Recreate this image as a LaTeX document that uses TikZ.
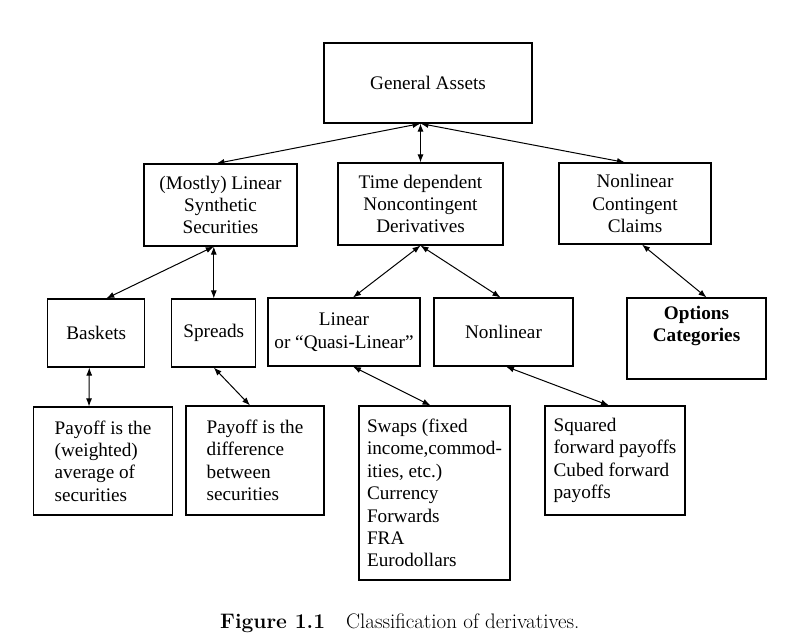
\documentclass[tikz,border=0pt]{standalone}
\usepackage{fontspec}
\newfontfamily\timesfont{Liberation Serif}
\usepackage{tikz}
\usetikzlibrary{arrows.meta}

\begin{document}
\begin{tikzpicture}[x=1pt, y=-1pt,
  box/.style={draw, line width=1.1pt, align=center, inner sep=2pt,
    font=\timesfont\fontsize{19.2}{22.4}\selectfont},
  leftbox/.style={box, align=left},
  link/.style={line width=1pt, {Latex[length=8pt,width=6pt]}-{Latex[length=8pt,width=6pt]}}
]
\useasboundingbox[fill=white] (0,0) rectangle (800,642);

% Top
\node[box, minimum width=208pt, minimum height=80pt] (ga) at (428,83) {General Assets};

% Second row
\node[box, minimum width=153pt, minimum height=82pt] (synth) at (220.5,205) {(Mostly) Linear\\Synthetic\\Securities};
\node[box, minimum width=165pt, minimum height=82pt] (timedep) at (420.5,204) {Time dependent\\Noncontingent\\Derivatives};
\node[box, minimum width=152pt, minimum height=81pt] (contingent) at (635,203.5) {Nonlinear\\Contingent\\Claims};

% Third row
\node[box, minimum width=97pt, minimum height=68pt] (baskets) at (96.3,333) {Baskets};
\node[box, minimum width=84pt, minimum height=68pt] (spreads) at (213.8,333) {Spreads};
\node[box, minimum width=152pt, minimum height=68pt] (linear) at (344,332) {Linear\\or “Quasi-Linear”};
\node[box, minimum width=139pt, minimum height=68pt] (nonlinear) at (503.5,332) {Nonlinear};
\node[box, minimum width=139pt, minimum height=81pt] (options) at (696.5,338.5) {\textbf{Options}\\\textbf{Categories}\\ \strut};

% Bottom row
\node[leftbox, minimum width=139pt, minimum height=108pt] (avg) at (103,461) {Payoff is the\\(weighted)\\average of\\securities};
\node[leftbox, minimum width=138pt, minimum height=109pt] (diff) at (255,460.5) {Payoff is the\\difference\\between\\securities};
\node[leftbox, minimum width=151pt, minimum height=174pt] (swaps) at (434.5,493) {Swaps (fixed\\income,commod-\\ities, etc.)\\Currency\\Forwards\\FRA\\Eurodollars};
\node[leftbox, minimum width=140pt, minimum height=109pt] (powers) at (615,460.5) {Squared\\forward payoffs\\Cubed forward\\payoffs};

% Arrows
\draw[link] (ga.south -| timedep.north) -- ([xshift=-4pt]synth.north);
\draw[link] (ga.south -| timedep.north) -- (timedep.north);
\draw[link] (ga.south -| timedep.north) -- ([xshift=-10pt]contingent.north);
\draw[link] (synth.south -| spreads.north) -- ([xshift=10pt]baskets.north);
\draw[link] (synth.south -| spreads.north) -- (spreads.north);
\draw[link] (timedep.south) -- ([xshift=9pt]linear.north);
\draw[link] (timedep.south) -- ([xshift=-3pt]nonlinear.north);
\draw[link] ([xshift=7pt]contingent.south) -- ([xshift=10pt]options.north);
\draw[link] ([xshift=-7pt]baskets.south) -- ([xshift=-14pt]avg.north);
\draw[link] (spreads.south) -- ([xshift=-5pt]diff.north);
\draw[link] ([xshift=9pt]linear.south) -- ([xshift=-4pt]swaps.north);
\draw[link] ([xshift=2.5pt]nonlinear.south) -- ([xshift=-6pt]powers.north);

% Caption
\node[anchor=base east, font=\fontsize{21}{25}\selectfont] (caption) at (583,628) {\textbf{Figure 1.1}\quad Classification of derivatives.};
\end{tikzpicture}
\end{document}
